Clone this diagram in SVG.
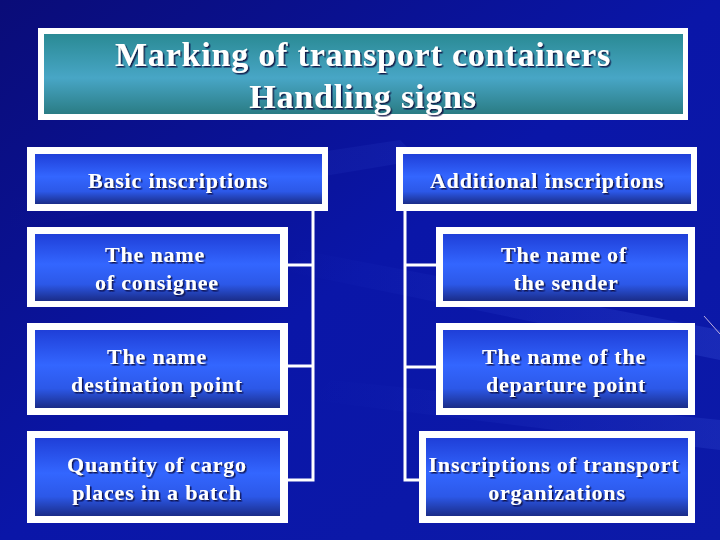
<svg xmlns="http://www.w3.org/2000/svg" width="720" height="540" viewBox="0 0 720 540">
<defs>
<linearGradient id="bg" x1="0" y1="0" x2="1" y2="1">
<stop offset="0" stop-color="#0a0c78"/>
<stop offset="0.5" stop-color="#0a16a8"/>
<stop offset="1" stop-color="#0c1aa8"/>
</linearGradient>
<linearGradient id="streak" x1="0" y1="0" x2="1" y2="0">
<stop offset="0" stop-color="#4a6cff" stop-opacity="0"/>
<stop offset="1" stop-color="#5a7cff" stop-opacity="0.35"/>
</linearGradient>
<linearGradient id="teal" x1="0" y1="0" x2="0" y2="1">
<stop offset="0" stop-color="#2a8a94"/>
<stop offset="0.55" stop-color="#48a6c6"/>
<stop offset="1" stop-color="#2a7c84"/>
</linearGradient>
<linearGradient id="blue" x1="0" y1="0" x2="0" y2="1">
<stop offset="0" stop-color="#1f3fd8"/>
<stop offset="0.45" stop-color="#3366ff"/>
<stop offset="0.75" stop-color="#2c58e8"/>
<stop offset="1" stop-color="#1a2c88"/>
</linearGradient>
<filter id="sh" x="-5%" y="-20%" width="110%" height="140%">
<feDropShadow dx="1.5" dy="1.5" stdDeviation="0.4" flood-color="#101040" flood-opacity="0.9"/>
</filter>
</defs>
<style>
.frame{fill:#ffffff}
.inner{fill:url(#blue)}
.t{font-family:"Liberation Serif","Times New Roman",serif;font-weight:bold;font-size:22px;fill:#ffffff;text-anchor:middle;filter:url(#sh);letter-spacing:0.8px}
.title{font-family:"Liberation Serif","Times New Roman",serif;font-weight:bold;font-size:34px;fill:#ffffff;text-anchor:middle;filter:url(#sh);letter-spacing:0.8px}
.c{stroke:#ffffff;stroke-width:3;fill:none}
</style>
<rect width="720" height="540" fill="url(#bg)"/>
<polygon points="300,250 720,330 720,360 280,270" fill="url(#streak)" opacity="0.5"/>
<polygon points="330,380 720,420 720,450 310,400" fill="url(#streak)" opacity="0.4"/>
<polygon points="0,200 400,140 420,160 0,230" fill="url(#streak)" opacity="0.25"/>
<line x1="704" y1="316" x2="720" y2="334" stroke="#c0b0e0" stroke-width="1"/>

<g id="title">
<rect class="frame" x="38" y="28" width="650" height="92"/>
<rect x="44" y="34" width="639" height="80" fill="url(#teal)"/>
<text class="title" x="363" y="66">Marking of transport containers</text>
<text class="title" x="363" y="108">Handling signs</text>
</g>

<g id="connectors">
<polyline class="c" points="313,211 313,480 288,480"/>
<line class="c" x1="288" y1="265" x2="313" y2="265"/>
<line class="c" x1="288" y1="366" x2="313" y2="366"/>
<polyline class="c" points="405,211 405,480 419,480"/>
<line class="c" x1="405" y1="265" x2="436" y2="265"/>
<line class="c" x1="405" y1="367" x2="436" y2="367"/>
</g>

<g id="basic">
<rect class="frame" x="27" y="147" width="301" height="64"/>
<rect class="inner" x="35" y="154" width="287" height="50"/>
<text class="t" x="178" y="188">Basic inscriptions</text>
</g>
<g id="consignee">
<rect class="frame" x="27" y="227" width="261" height="80"/>
<rect class="inner" x="35" y="234" width="245" height="67"/>
<text class="t" x="155" y="262">The name</text>
<text class="t" x="157" y="290">of consignee</text>
</g>
<g id="destination">
<rect class="frame" x="27" y="323" width="261" height="92"/>
<rect class="inner" x="35" y="330" width="245" height="78"/>
<text class="t" x="157" y="364">The name</text>
<text class="t" x="157" y="392">destination point</text>
</g>
<g id="quantity">
<rect class="frame" x="27" y="431" width="261" height="92"/>
<rect class="inner" x="35" y="438" width="245" height="78"/>
<text class="t" x="157" y="472">Quantity of cargo</text>
<text class="t" x="157" y="500">places in a batch</text>
</g>

<g id="additional">
<rect class="frame" x="396" y="147" width="301" height="64"/>
<rect class="inner" x="403" y="154" width="288" height="50"/>
<text class="t" x="547" y="188">Additional inscriptions</text>
</g>
<g id="sender">
<rect class="frame" x="436" y="227" width="259" height="80"/>
<rect class="inner" x="443" y="234" width="245" height="67"/>
<text class="t" x="564" y="262">The name of</text>
<text class="t" x="566" y="290">the sender</text>
</g>
<g id="departure">
<rect class="frame" x="436" y="323" width="259" height="92"/>
<rect class="inner" x="443" y="330" width="245" height="78"/>
<text class="t" x="564" y="364">The name of the</text>
<text class="t" x="566" y="392">departure point</text>
</g>
<g id="organizations">
<rect class="frame" x="419" y="431" width="276" height="92"/>
<rect class="inner" x="426" y="438" width="262" height="78"/>
<text class="t" x="554" y="472">Inscriptions of transport</text>
<text class="t" x="557" y="500">organizations</text>
</g>
</svg>
